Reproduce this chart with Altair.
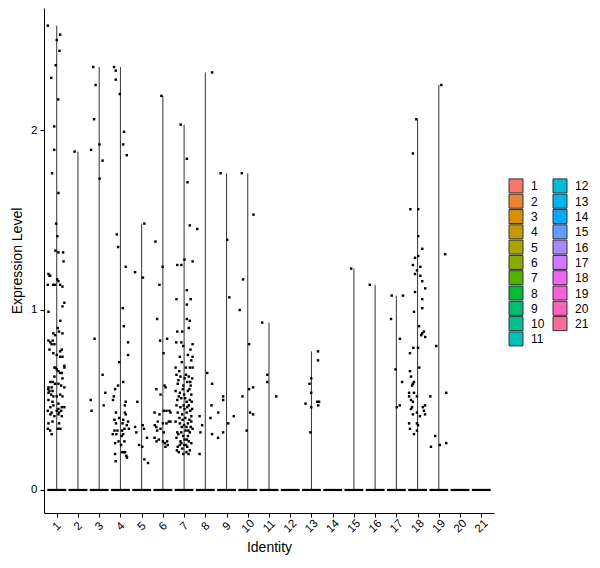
import math
import altair as alt
import pandas as pd

# ---------------- data ----------------
groups = list(range(1, 22))
labels = [str(g) for g in groups]
# top of each (very thin) violin = maximum expression in the cluster
vmax = [2.58, 1.88, 2.35, 2.35, 1.48, 2.19, 2.03, 2.32, 1.76, 1.76, 0.93,
        0.0, 0.77, 0.0, 1.23, 1.14, 1.08, 2.06, 2.25, 0.0, 0.0]

# non-zero cells: (horizontal jitter in category units, expression level)
pts_1 = [(-0.42, 2.58), (0.16, 2.53), (0.0, 2.50), (0.13, 2.44), (-0.05, 2.36), (-0.26, 2.29),
         (0.07, 2.17), (-0.12, 2.02), (-0.12, 1.89), (-0.22, 1.76), (0.08, 1.65), (-0.03, 1.48),
         (0.03, 1.41), (-0.06, 1.33), (0.08, 1.32), (0.30, 1.32), (0.32, 1.27), (-0.39, 1.20),
         (-0.34, 1.19), (-0.31, 1.19), (-0.42, 1.14), (-0.17, 1.14), (-0.08, 1.14), (0.02, 1.17),
         (0.08, 1.16), (0.16, 1.14), (0.27, 1.13), (0.36, 1.04), (0.27, 1.02), (-0.39, 0.99),
         (0.17, 0.94), (0.05, 0.90), (0.11, 0.88), (-0.16, 0.87), (-0.08, 0.86), (0.27, 0.87),
         (-0.39, 0.83), (-0.30, 0.82), (-0.19, 0.83), (-0.24, 0.81), (-0.11, 0.81), (-0.34, 0.78),
         (0.16, 0.77), (0.24, 0.78), (-0.16, 0.76), (0.0, 0.75), (0.16, 0.74), (0.27, 0.74),
         (0.36, 0.69), (-0.11, 0.68), (-0.06, 0.68), (0.0, 0.67), (0.08, 0.66), (0.16, 0.65),
         (0.24, 0.65), (0.36, 0.68), (-0.11, 0.63), (0.27, 0.62), (-0.30, 0.60), (-0.19, 0.60),
         (-0.08, 0.59), (0.08, 0.59), (0.21, 0.58), (0.36, 0.57), (-0.39, 0.57), (-0.24, 0.57),
         (-0.40, 0.56), (-0.34, 0.55), (-0.20, 0.55), (-0.39, 0.54), (-0.26, 0.53), (-0.16, 0.52),
         (0.0, 0.52), (0.16, 0.53), (0.27, 0.52), (-0.39, 0.50), (-0.20, 0.49), (0.08, 0.48),
         (-0.30, 0.46), (-0.16, 0.47), (0.08, 0.45), (0.24, 0.46), (0.36, 0.46), (-0.42, 0.44),
         (-0.24, 0.43), (0.0, 0.44), (0.11, 0.43), (0.21, 0.44), (-0.30, 0.42), (-0.11, 0.41),
         (0.08, 0.42), (0.24, 0.41), (-0.39, 0.37), (-0.20, 0.38), (0.11, 0.37), (-0.42, 0.34),
         (-0.31, 0.33), (0.05, 0.34), (0.17, 0.34), (-0.24, 0.31)]
pts_2 = [(-0.16, 1.88)]
pts_3 = [(-0.28, 2.35), (-0.17, 2.25), (-0.24, 2.06), (-0.38, 1.89), (0.01, 1.92), (0.16, 1.83),
         (0.02, 1.73), (-0.22, 0.84), (0.16, 0.64), (0.29, 0.54), (-0.40, 0.50), (0.21, 0.47),
         (-0.36, 0.44)]
pts_4 = [(-0.30, 2.35), (-0.22, 2.33), (-0.22, 2.28), (-0.03, 2.20), (0.17, 1.99), (0.13, 1.92),
         (0.30, 1.86), (-0.17, 1.42), (-0.11, 1.35), (0.25, 1.24), (0.11, 1.01), (0.16, 0.91),
         (0.36, 0.82), (0.36, 0.75), (-0.06, 0.71), (0.13, 0.60), (-0.11, 0.58), (-0.25, 0.56),
         (-0.31, 0.52), (-0.35, 0.50), (0.25, 0.49), (0.21, 0.47), (-0.21, 0.43), (0.21, 0.43),
         (0.25, 0.42), (-0.28, 0.39), (-0.06, 0.40), (0.13, 0.39), (0.36, 0.38), (0.40, 0.34),
         (-0.21, 0.37), (0.10, 0.37), (0.30, 0.36), (0.19, 0.34), (-0.28, 0.33), (-0.14, 0.33),
         (0.08, 0.33), (-0.36, 0.31), (-0.19, 0.31), (0.06, 0.30), (0.13, 0.31), (-0.09, 0.27),
         (0.19, 0.27), (-0.25, 0.26), (0.03, 0.25), (0.22, 0.21), (0.09, 0.21), (0.16, 0.21),
         (-0.25, 0.20), (0.28, 0.19), (0.31, 0.18), (-0.22, 0.16)]
pts_5 = [(0.13, 1.48), (-0.31, 1.21), (0.06, 1.18), (-0.20, 0.49), (-0.31, 0.35), (0.05, 0.36),
         (0.11, 0.34), (-0.25, 0.32), (0.25, 0.29), (-0.12, 0.25), (0.03, 0.24), (0.13, 0.17),
         (0.30, 0.15)]
pts_6 = [(-0.07, 2.19), (-0.35, 1.38), (-0.01, 1.24), (-0.16, 1.14), (-0.27, 0.95), (-0.13, 0.83),
         (0.20, 0.84), (0.03, 0.76), (-0.31, 0.56), (-0.11, 0.53), (0.08, 0.58), (0.13, 0.57),
         (-0.39, 0.43), (-0.16, 0.42), (0.04, 0.44), (0.17, 0.44), (0.31, 0.44), (0.36, 0.43),
         (-0.24, 0.38), (0.0, 0.37), (0.17, 0.37), (0.36, 0.38), (0.28, 0.38), (-0.38, 0.36),
         (-0.31, 0.35), (-0.27, 0.33), (-0.11, 0.34), (0.04, 0.32), (0.20, 0.27), (0.12, 0.24),
         (-0.39, 0.29), (-0.30, 0.27), (-0.19, 0.28), (0.0, 0.27), (0.09, 0.26), (0.23, 0.25)]
pts_7 = [(-0.16, 2.03), (0.13, 1.84), (0.16, 1.71), (0.27, 1.47), (-0.32, 1.25), (-0.13, 1.25),
         (0.02, 1.28), (0.40, 1.27), (-0.36, 1.06), (0.31, 1.06), (0.13, 1.11), (0.13, 1.03),
         (0.13, 0.95), (0.27, 0.94), (-0.32, 0.88), (-0.09, 0.88), (0.22, 0.90), (-0.37, 0.82),
         (-0.13, 0.82), (0.40, 0.81), (0.30, 0.78), (-0.04, 0.80), (-0.20, 0.74), (0.18, 0.75),
         (0.40, 0.74), (-0.11, 0.71), (0.34, 0.72), (-0.40, 0.68), (-0.23, 0.66), (0.08, 0.68),
         (0.27, 0.68), (0.40, 0.68), (-0.36, 0.64), (-0.17, 0.63), (0.02, 0.62), (0.22, 0.63),
         (0.38, 0.62), (-0.30, 0.59), (-0.04, 0.58), (0.15, 0.60), (0.31, 0.58), (-0.40, 0.55),
         (-0.20, 0.54), (0.0, 0.53), (0.18, 0.55), (0.34, 0.53), (-0.32, 0.50), (-0.13, 0.51),
         (0.12, 0.49), (0.27, 0.50), (-0.36, 0.47), (-0.17, 0.46), (0.02, 0.45), (0.22, 0.47),
         (0.38, 0.45), (-0.30, 0.43), (-0.09, 0.42), (0.12, 0.43), (0.34, 0.41), (-0.40, 0.38),
         (-0.20, 0.37), (0.0, 0.36), (0.18, 0.37), (0.34, 0.38), (-0.32, 0.32), (-0.13, 0.32),
         (0.07, 0.33), (0.27, 0.32), (0.40, 0.34), (-0.36, 0.29), (-0.17, 0.27), (0.02, 0.28),
         (0.22, 0.27), (-0.30, 0.24), (-0.08, 0.23), (0.15, 0.24), (0.34, 0.26), (-0.25, 0.21),
         (-0.04, 0.20), (0.21, 0.20), (-0.27, 0.61), (0.09, 0.64), (0.29, 0.60), (-0.06, 0.56),
         (0.25, 0.56), (-0.25, 0.52), (0.05, 0.51), (0.36, 0.49), (-0.02, 0.47), (0.29, 0.44),
         (-0.22, 0.40), (0.06, 0.40), (0.25, 0.39), (-0.11, 0.35), (0.11, 0.35), (0.31, 0.35),
         (-0.27, 0.31), (-0.04, 0.30), (0.18, 0.30), (-0.13, 0.26), (0.09, 0.25), (0.27, 0.22),
         (-0.34, 0.22), (0.11, 0.21), (-0.20, 0.25), (0.13, 0.28), (0.0, 0.25), (0.20, 0.33),
         (-0.07, 0.39), (0.15, 0.46)]
pts_8 = [(0.32, 2.32), (-0.38, 1.45), (0.09, 0.65), (0.32, 0.59), (0.29, 0.47), (-0.27, 0.41),
         (0.24, 0.40), (-0.15, 0.36), (-0.23, 0.32), (0.32, 0.31), (-0.27, 0.20)]
pts_9 = [(-0.28, 1.76), (0.03, 1.39), (0.13, 1.07), (-0.16, 0.52), (-0.16, 0.50), (-0.39, 0.43),
         (0.34, 0.41), (0.08, 0.37), (-0.16, 0.32), (-0.40, 0.29)]
pts_10 = [(-0.28, 1.76), (0.27, 1.53), (-0.22, 1.17), (-0.38, 1.00), (0.06, 0.81), (0.06, 0.56),
          (0.25, 0.57), (-0.25, 0.52), (0.11, 0.43), (0.25, 0.42), (-0.05, 0.33)]
pts_11 = [(-0.32, 0.93), (-0.08, 0.64), (-0.08, 0.60), (0.34, 0.52)]
pts_13 = [(0.31, 0.77), (0.31, 0.72), (-0.01, 0.62), (-0.09, 0.59), (-0.01, 0.54), (-0.28, 0.48),
          (-0.01, 0.46), (0.27, 0.49), (0.36, 0.49), (0.32, 0.47), (-0.05, 0.32)]
pts_15 = [(-0.13, 1.23)]
pts_16 = [(-0.25, 1.14)]
pts_17 = [(-0.22, 1.08), (0.31, 1.08), (-0.25, 0.95), (0.17, 0.84), (-0.04, 0.67), (0.27, 0.60),
          (0.16, 0.47), (0.02, 0.46)]
pts_18 = [(-0.06, 2.06), (-0.22, 1.87), (-0.34, 1.56), (0.03, 1.56), (0.03, 1.41), (0.22, 1.34),
          (-0.12, 1.29), (0.03, 1.30), (-0.22, 1.25), (0.13, 1.24), (-0.03, 1.22), (-0.12, 1.20),
          (0.13, 1.19), (0.22, 1.16), (0.36, 1.12), (-0.12, 1.10), (0.22, 1.06), (0.22, 1.01),
          (-0.17, 0.99), (0.07, 0.91), (0.30, 0.88), (0.22, 0.87), (0.17, 0.86), (0.36, 0.85),
          (0.02, 0.79), (-0.20, 0.79), (-0.36, 0.76), (0.08, 0.68), (-0.36, 0.66), (-0.31, 0.63),
          (-0.17, 0.60), (-0.22, 0.59), (-0.26, 0.58), (-0.40, 0.54), (-0.17, 0.54), (-0.03, 0.52),
          (-0.40, 0.52), (-0.31, 0.50), (-0.22, 0.49), (0.35, 0.47), (0.25, 0.46), (0.30, 0.44),
          (0.35, 0.42), (-0.26, 0.46), (-0.31, 0.45), (-0.03, 0.43), (-0.22, 0.42), (0.11, 0.41),
          (-0.40, 0.37), (-0.03, 0.37), (0.02, 0.36), (-0.36, 0.34), (-0.03, 0.33), (-0.17, 0.31)]
pts_19 = [(0.12, 2.25), (0.30, 1.31), (-0.12, 0.80), (0.35, 0.54), (-0.40, 0.52), (-0.17, 0.30),
          (0.35, 0.26), (0.05, 0.25), (-0.37, 0.24)]

points = {1: pts_1, 2: pts_2, 3: pts_3, 4: pts_4, 5: pts_5, 6: pts_6, 7: pts_7, 8: pts_8,
          9: pts_9, 10: pts_10, 11: pts_11, 13: pts_13, 15: pts_15, 16: pts_16, 17: pts_17,
          18: pts_18, 19: pts_19}


# ---------------- ggplot2 default hue palette ----------------
def hcl_hex(h, c=100.0, l=65.0):
    Xn, Yn, Zn = 95.047, 100.0, 108.883
    un = 4 * Xn / (Xn + 15 * Yn + 3 * Zn)
    vn = 9 * Yn / (Xn + 15 * Yn + 3 * Zn)
    hr = math.radians(h)
    U, V = c * math.cos(hr), c * math.sin(hr)
    Y = Yn * ((l + 16) / 116) ** 3
    u = U / (13 * l) + un
    v = V / (13 * l) + vn
    X = 9.0 * Y * u / (4 * v)
    Z = -X / 3 - 5 * Y + 3 * Y / v
    X, Y, Z = X / 100, Y / 100, Z / 100
    rgb = [3.240479 * X - 1.537150 * Y - 0.498535 * Z,
           -0.969256 * X + 1.875992 * Y + 0.041556 * Z,
           0.055648 * X - 0.204043 * Y + 1.057311 * Z]
    out = []
    for t in rgb:
        t = 1.055 * t ** (1 / 2.4) - 0.055 if t > 0.00304 else 12.92 * t
        out.append(int(round(255 * min(1, max(0, t)))))
    return "#%02X%02X%02X" % tuple(out)


n = len(groups)
palette = [hcl_hex(15 + 360 * i / n) for i in range(n)]

# ---------------- tables ----------------
gdf = pd.DataFrame({"group": groups, "label": labels, "vmax": vmax})
rows = []
for g, lst in points.items():
    for j, v in lst:
        rows.append({"group": g, "jitter": j, "value": v})
pdf = pd.DataFrame(rows)
# legend keys: two columns filled top to bottom (1..11, 12..21)
ldf = pd.DataFrame({"label": labels,
                    "col": [i // 11 for i in range(n)],
                    "row": [i % 11 for i in range(n)]})

FONT = "Liberation Sans"
xscale = alt.Scale(domain=[0.4, 21.6], nice=False, zero=False)
yscale = alt.Scale(domain=[-0.128, 2.678], nice=False, zero=False)
xaxis = alt.Axis(values=groups, format="d", labelAngle=315, labelAlign="center",
                 labelBaseline="middle", labelPadding=9, labelFlush=False, labelOverlap=False,
                 tickSize=4, grid=False, title="Identity", titlePadding=6)
yaxis = alt.Axis(values=[0, 1, 2], format="d", grid=False, tickSize=4, labelPadding=3,
                 title="Expression Level", titlePadding=6)

X = lambda f: alt.X(f, type="quantitative", scale=xscale, axis=xaxis, title="Identity")
Y = lambda f: alt.Y(f, type="quantitative", scale=yscale, axis=yaxis, title="Expression Level")

violin = alt.Chart(gdf).transform_filter("datum.vmax > 0").transform_calculate(
    zero="0").mark_rule(color="#333333", strokeWidth=1).encode(
    x=X("group"), y=Y("zero"), y2="vmax")

base0 = alt.Chart(gdf).transform_calculate(
    lo="datum.group - 0.445", hi="datum.group + 0.445", zero="0"
).mark_rule(color="#000000", strokeWidth=2.2).encode(
    x=X("lo"), x2="hi", y=Y("zero"))

dots = alt.Chart(pdf).transform_calculate(
    xj="datum.group + datum.jitter"
).mark_square(size=6, color="#000000", filled=True, opacity=1).encode(
    x=X("xj"), y=Y("value"))

main = alt.layer(violin, base0, dots).properties(width=450, height=505)

# ---------------- legend panel ----------------
lx = alt.X("col:Q", scale=alt.Scale(domain=[-0.5, 1.5], nice=False, zero=False), axis=None)
ly = alt.Y("row:Q", scale=alt.Scale(domain=[-11.63, 21.38], nice=False, zero=False,
                                    reverse=True), axis=None)
keys = alt.Chart(ldf).mark_square(size=196, filled=True, stroke="#333333",
                                  strokeWidth=1, opacity=1).encode(
    x=lx, y=ly,
    color=alt.Color("label:N", scale=alt.Scale(domain=labels, range=palette), legend=None))
keytext = alt.Chart(ldf).mark_text(align="left", baseline="middle", dx=15, dy=0.5,
                                   font=FONT, fontSize=12, color="#000000").encode(
    x=lx, y=ly, text="label:N")
legend_panel = alt.layer(keys, keytext).properties(width=88, height=505)

chart = alt.hconcat(main, legend_panel, spacing=0).properties(
    padding={"left": 2, "top": 0, "right": 0, "bottom": 0},
).configure_view(strokeWidth=0).configure_axis(
    labelFont=FONT, titleFont=FONT, labelFontSize=11.5, titleFontSize=14,
    titleFontWeight="normal", labelColor="#000000", titleColor="#000000",
    domainColor="#000000", tickColor="#000000", domainWidth=1, tickWidth=1,
)

chart.save("out.html", embed_options={"renderer": "svg", "actions": False})
